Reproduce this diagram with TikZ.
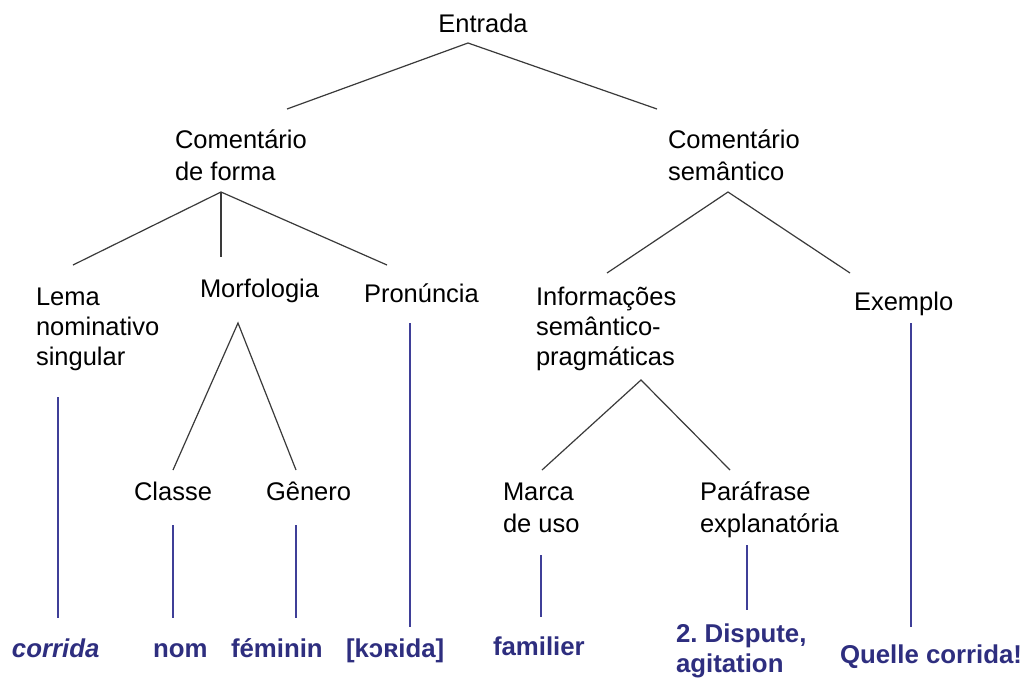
\documentclass[tikz,border=0pt]{standalone}
\usepackage{fontspec}
\setmainfont{Liberation Sans}
\frenchspacing
\definecolor{treegray}{HTML}{3A3A3A}
\definecolor{bline}{HTML}{3F3F98}
\definecolor{btext}{HTML}{2E2E7F}
\tikzset{
  lbl/.style={anchor=base west, inner sep=0pt, outer sep=0pt, align=left, text=black,
    font=\fontsize{25.5}{30}\selectfont},
  blbl/.style={lbl, text=btext, font=\fontsize{25.8}{30}\selectfont\bfseries},
  branch/.style={draw=treegray, line width=1.2pt},
  stem/.style={draw=bline, line width=2.8pt}
}
\begin{document}
\begin{tikzpicture}[x=1pt,y=-1pt]
\useasboundingbox[fill=white] (0,0) rectangle (1027,678);
% labels (multi-line nodes are placed by the baseline of their last line)
\node[lbl, anchor=base] (entrada) at (483,32) {Entrada};
\node[lbl] (cf) at (175,180) {Comentário\\[2pt]de forma};
\node[lbl] (cs) at (668,180) {Comentário\\[2pt]semântico};
\node[lbl] (lema) at (36,365) {Lema\\nominativo\\singular};
\node[lbl] (morf) at (200,297) {Morfologia};
\node[lbl] (pron) at (364,302) {Pronúncia};
\node[lbl] (info) at (536,365) {Informações\\semântico-\\pragmáticas};
\node[lbl] (exem) at (854,310) {Exemplo};
\node[lbl] (classe) at (134,500) {Classe};
\node[lbl] (genero) at (266,500) {Gênero};
\node[lbl] (marca) at (503,532) {Marca\\[2pt]de uso};
\node[lbl] (paraf) at (700,532) {Paráfrase\\[2pt]explanatória};
% blue leaves
\node[blbl, font=\fontsize{25.8}{30}\selectfont\bfseries\itshape] (corrida) at (12,657) {corrida};
\node[blbl] (nom) at (153,657) {nom};
\node[blbl] (femi) at (231,657) {féminin};
\node[blbl] (ipa) at (346,657) {[kɔʀida]};
\node[blbl] (fam) at (493,655) {familier};
\node[blbl] (disp) at (676,672) {2. Dispute,\\agitation};
\node[blbl] (quel) at (840,663) {Quelle corrida!};
% branch points
\coordinate (eA) at (468,43);
\coordinate (cfT) at (287,109);
\coordinate (csT) at (657,109);
\coordinate (cfA) at (221,192);
\coordinate (lemaT) at (73,265);
\coordinate (morfT) at (221,257);
\coordinate (pronT) at (387,265);
\coordinate (csA) at (728,192);
\coordinate (infoT) at (607,273);
\coordinate (exemT) at (850,273);
\coordinate (morfA) at (238,323);
\coordinate (classeT) at (173,470);
\coordinate (generoT) at (296,470);
\coordinate (infoA) at (641,380);
\coordinate (marcaT) at (542,470);
\coordinate (parafT) at (730,470);
\draw[branch] (cfT) -- (eA) -- (csT);
\draw[branch] (lemaT) -- (cfA) -- (pronT);
\draw[branch] (cfA) -- (morfT);
\draw[branch] (infoT) -- (csA) -- (exemT);
\draw[branch] (classeT) -- (morfA) -- (generoT);
\draw[branch] (marcaT) -- (infoA) -- (parafT);
% stems
\coordinate (s1a) at (58,397);  \coordinate (s1b) at (58,618);
\coordinate (s2a) at (173,525); \coordinate (s2b) at (173,618);
\coordinate (s3a) at (296,525); \coordinate (s3b) at (296,618);
\coordinate (s4a) at (410,323); \coordinate (s4b) at (410,627);
\coordinate (s5a) at (541,555); \coordinate (s5b) at (541,617);
\coordinate (s6a) at (747,545); \coordinate (s6b) at (747,610);
\coordinate (s7a) at (911,323); \coordinate (s7b) at (911,627);
\draw[stem] (s1a) -- (s1b);
\draw[stem] (s2a) -- (s2b);
\draw[stem] (s3a) -- (s3b);
\draw[stem] (s4a) -- (s4b);
\draw[stem] (s5a) -- (s5b);
\draw[stem] (s6a) -- (s6b);
\draw[stem] (s7a) -- (s7b);
\end{tikzpicture}
\end{document}
